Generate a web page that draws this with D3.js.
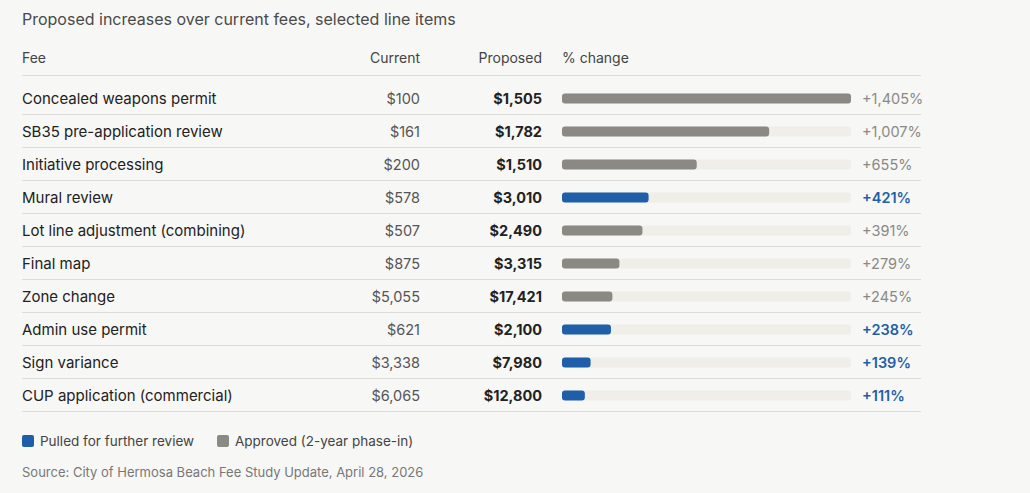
<!DOCTYPE html>
<html lang="en">
<head>
<meta charset="utf-8">
<style type="text/css">
body { margin: 0; background: #f7f7f5; }
svg { display: block; font-family: Inter, "Open Sans", sans-serif; }
.rule { stroke: #dcdcd8; stroke-width: 1px; }
</style>
</head>
<body>
<svg width="1030" height="493"></svg>
<script src="https://cdn.jsdelivr.net/npm/d3@7"></script>
<script type="text/javascript">
// data
var fees = ["Concealed weapons permit", "SB35 pre-application review", "Initiative processing",
    "Mural review", "Lot line adjustment (combining)", "Final map", "Zone change",
    "Admin use permit", "Sign variance", "CUP application (commercial)"];
var current = [100, 161, 200, 578, 507, 875, 5055, 621, 3338, 6065];
var proposed = [1505, 1782, 1510, 3010, 2490, 3315, 17421, 2100, 7980, 12800];
var pctChange = [1405, 1007, 655, 421, 391, 279, 245, 238, 139, 111];
var reviewStatus = ["approved", "approved", "approved", "pulled", "approved", "approved",
    "approved", "pulled", "pulled", "pulled"];
var legendLabels = ["Pulled for further review", "Approved (2-year phase-in)"];

var rows = fees.map(function (f, i) {
    return {fee: f, cur: current[i], prop: proposed[i], pct: pctChange[i], status: reviewStatus[i]};
});

var blue = "#1f5ea8", gray = "#8a8984";
var svg = d3.select("svg");

var y = d3.scaleBand().domain(fees).range([82, 412]);
var x = d3.scaleLinear().domain([0, d3.max(pctChange)]).range([562, 851]);
var money = d3.format("$,");
var pctFmt = function (v) { return "+" + d3.format(",")(v) + "%"; };

svg.append("text").attr("x", 22).attr("y", 25)
    .attr("font-size", 16).attr("fill", "#4a4a4a")
    .text("Proposed increases over current fees, selected line items");

// header
var head = svg.append("g").attr("font-size", 14).attr("fill", "#444");
head.append("text").attr("x", 22).attr("y", 63).text("Fee");
head.append("text").attr("x", 420).attr("y", 63).attr("text-anchor", "end").text("Current");
head.append("text").attr("x", 542).attr("y", 63).attr("text-anchor", "end").text("Proposed");
head.append("text").attr("x", 562).attr("y", 63).text("% change");

svg.append("line").attr("class", "rule")
    .attr("x1", 22).attr("x2", 921).attr("y1", 75.5).attr("y2", 75.5);

var row = svg.selectAll(".row").data(rows).enter().append("g")
    .attr("class", "row")
    .attr("transform", function (d) { return "translate(0," + y(d.fee) + ")"; });

var bh = y.bandwidth();

row.append("line").attr("class", "rule")
    .attr("x1", 22).attr("x2", 921)
    .attr("y1", Math.round(bh) - 0.5).attr("y2", Math.round(bh) - 0.5);

row.append("text").attr("x", 22).attr("y", bh / 2 + 5)
    .attr("font-size", 15).attr("fill", "#222")
    .text(function (d) { return d.fee; });

row.append("text").attr("x", 420).attr("y", bh / 2 + 5)
    .attr("text-anchor", "end").attr("font-size", 14.5).attr("fill", "#555")
    .text(function (d) { return money(d.cur); });

row.append("text").attr("x", 542).attr("y", bh / 2 + 5)
    .attr("text-anchor", "end").attr("font-size", 14.5).attr("font-weight", 700).attr("fill", "#222")
    .text(function (d) { return money(d.prop); });

row.append("rect")
    .attr("x", x(0)).attr("y", bh / 2 - 5)
    .attr("width", x.range()[1] - x(0)).attr("height", 10)
    .attr("rx", 3).attr("fill", "#efeee9");

row.append("rect")
    .attr("x", x(0)).attr("y", bh / 2 - 5)
    .attr("width", function (d) { return x(d.pct) - x(0); }).attr("height", 10)
    .attr("rx", 3)
    .attr("fill", function (d) { return d.status == "pulled" ? blue : gray; });

row.append("text").attr("x", 862).attr("y", bh / 2 + 5)
    .attr("font-size", 14.5)
    .attr("font-weight", function (d) { return d.status == "pulled" ? 600 : 400; })
    .attr("fill", function (d) { return d.status == "pulled" ? blue : "#8a8984"; })
    .text(function (d) { return pctFmt(d.pct); });

// legend
var lx = [22, 217];
var lg = svg.selectAll(".lg").data(legendLabels).enter().append("g")
    .attr("transform", function (d, i) { return "translate(" + lx[i] + ",435)"; });
lg.append("rect").attr("width", 12).attr("height", 12).attr("rx", 2)
    .attr("fill", function (d, i) { return i == 0 ? blue : gray; });
lg.append("text").attr("x", 18).attr("y", 11).attr("font-size", 13.5).attr("fill", "#444")
    .text(function (d) { return d; });

svg.append("text").attr("x", 22).attr("y", 477)
    .attr("font-size", 13).attr("fill", "#777")
    .text("Source: City of Hermosa Beach Fee Study Update, April 28, 2026");
</script>
</body>
</html>
